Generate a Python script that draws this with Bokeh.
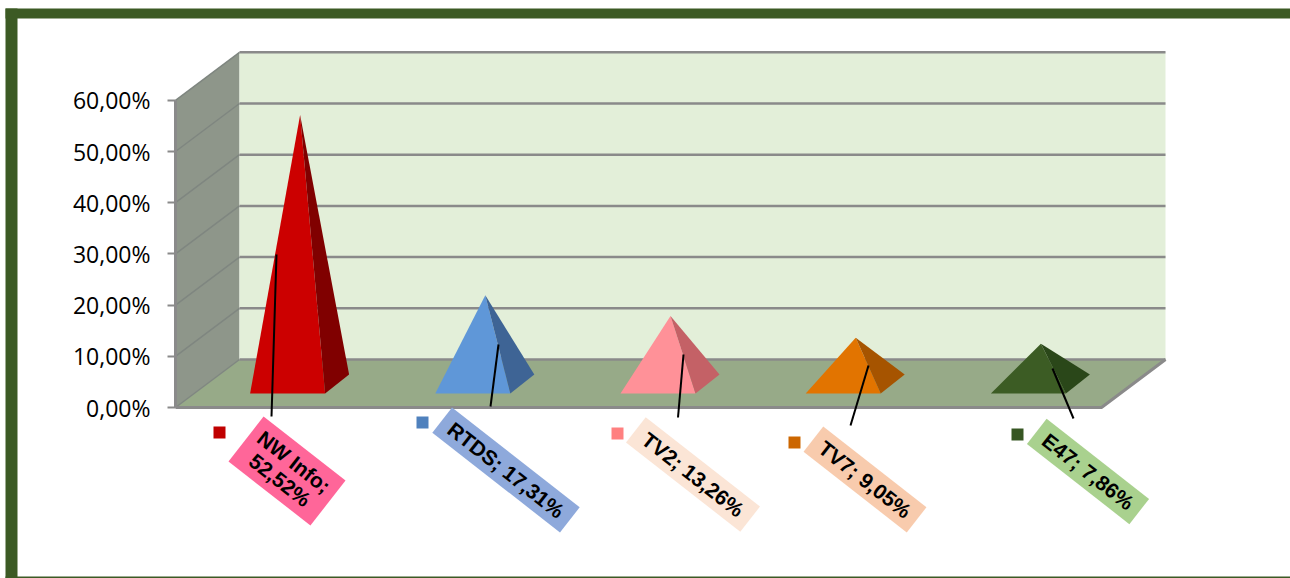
from bokeh.plotting import figure
from bokeh.embed import file_html
from bokeh.resources import INLINE
from bokeh.models import Range1d, FixedTicker
from bokeh.core.properties import value
import math

# ---- data ----
categories = ["NW Info", "RTDS", "TV2", "TV7", "E47"]
shares = [52.52, 17.31, 13.26, 9.05, 7.86]
data_labels = ["NW Info;\n52,52%", "RTDS; 17,31%", "TV2; 13,26%", "TV7; 9,05%", "E47; 7,86%"]
tick_values = [0, 10, 20, 30, 40, 50, 60]
tick_labels = ["0,00%", "10,00%", "20,00%", "30,00%", "40,00%", "50,00%", "60,00%"]

# ---- styles ----
front_colors = ["#CC0000", "#5F97D8", "#FF9198", "#E27400", "#3C5C24"]
side_colors = ["#800000", "#3E6495", "#C46166", "#A65400", "#2A4719"]
key_colors = ["#C00000", "#4F81BD", "#FF8080", "#CC6600", "#375623"]
box_colors = ["#FF6699", "#8EA9DB", "#FBE5D6", "#F8CBAD", "#A9D18E"]

# ---- layout (page pixels) ----
W, H = 1290, 578
PX = 5.12           # pixels per percentage point
Y0 = 407            # page y of 0 %
def yp(py):         # page pixel -> value-axis units
    return (Y0 - py) / PX

FL, FR = 175, 1101  # front floor edge
DX, DY = 64, 48     # depth of the box
box_w = [104, 162, 145, 131, 130]
box_h = [57, 32, 32, 32, 32]
box_cx = [286.5, 505.5, 692.5, 864.5, 1087.5]
box_cy = [470.5, 469.5, 474, 479, 471]
key_x = [219, 422, 617, 794, 1017]
key_y = [432, 422, 433, 442, 434]
lead_x0 = [271, 490, 677.5, 850, 1073]
lead_y0 = [416, 406, 417, 425, 418]
lead_x1 = [276, 498, 683, 868, 1052]
lead_y1 = [254, 344, 354, 365, 368]
ANGLE = -math.radians(38)

p = figure(width=W, height=H, output_backend="svg", toolbar_location=None,
           x_range=Range1d(0, W), y_range=Range1d(yp(H), yp(0)),
           x_axis_location=None, min_border=0, outline_line_color=None,
           background_fill_color="white", border_fill_color="white")
p.xgrid.visible = False
p.ygrid.visible = False

# outer frame
FRAME = "#3C5A24"
p.quad(left=[5], right=[17], top=[yp(8)], bottom=[yp(H)], color=FRAME, line_color=None)
p.quad(left=[5], right=[W], top=[yp(8)], bottom=[yp(18)], color=FRAME, line_color=None)
p.quad(left=[5], right=[W], top=[yp(576)], bottom=[yp(H)], color=FRAME, line_color=None)

# walls and floor
top = tick_values[-1]
p.patch([FL, FL + DX, FL + DX, FL], [0, DY / PX, top + DY / PX, top], color="#8E968A", line_color=None)
p.patch([FL + DX, FR + DX, FR + DX, FL + DX], [DY / PX, DY / PX, top + DY / PX, top + DY / PX],
        color="#E3EFD9", line_color=None)
p.patch([FL, FR, FR + DX, FL + DX], [0, 0, DY / PX, DY / PX], color="#97AA88", line_color=None)

GRID = "#8A8A8A"
for v in tick_values:
    p.line([FL, FL + DX], [v, v + DY / PX], line_color="#7F8680", line_width=1.5)
    p.line([FL + DX, FR + DX], [v + DY / PX, v + DY / PX], line_color=GRID, line_width=2.5)
p.line([FL, FL], [0, top], line_color=GRID, line_width=3)
p.line([FL, FR, FR + DX], [0, 0, DY / PX], line_color=GRID, line_width=3)

# pyramids
STEP = (FR - FL) / len(shares)
FLOOR_MID = yp(383.5)
FRONT_Y = yp(393)
BACK_Y = yp(374)
for i, v in enumerate(shares):
    cx = FL + (i + 0.5) * STEP + DX / 2
    apex = FLOOR_MID + v
    p.patch([cx - 50, cx + 25, cx], [FRONT_Y, FRONT_Y, apex], color=front_colors[i], line_color=None)
    p.patch([cx + 25, cx + 49, cx], [FRONT_Y, BACK_Y, apex], color=side_colors[i], line_color=None)

# labels
for i, label in enumerate(data_labels):
    p.line([lead_x0[i], lead_x1[i]], [yp(lead_y0[i]), yp(lead_y1[i])], line_color="black", line_width=2)
    p.rect(x=[box_cx[i]], y=[yp(box_cy[i])], width=[box_w[i]], height=[box_h[i]],
           width_units="screen", height_units="screen", angle=ANGLE,
           fill_color=box_colors[i], line_color=None)
    p.rect(x=[key_x[i]], y=[yp(key_y[i])], width=[12], height=[12],
           width_units="screen", height_units="screen", fill_color=key_colors[i], line_color=None)
    p.text(x=[box_cx[i]], y=[yp(box_cy[i])], text=[label], angle=ANGLE,
           text_font=value("Liberation Sans"), text_font_size="21px", text_font_style="bold",
           text_color="black", text_align="center", text_baseline="middle", text_line_height=1.0)

# value axis
ax = p.yaxis[0]
ax.fixed_location = FL
ax.ticker = FixedTicker(ticks=tick_values)
ax.major_label_overrides = dict(zip(tick_values, tick_labels))
ax.major_label_text_font = "Open Sans"
ax.major_label_text_font_size = "23px"
ax.major_label_text_color = "black"
ax.major_label_standoff = 17
ax.major_tick_out = 8
ax.major_tick_in = 0
ax.minor_tick_out = 0
ax.minor_tick_in = 0
ax.major_tick_line_color = GRID
ax.major_tick_line_width = 2
ax.axis_line_color = None

open("out.html", "w").write(file_html(p, INLINE))
